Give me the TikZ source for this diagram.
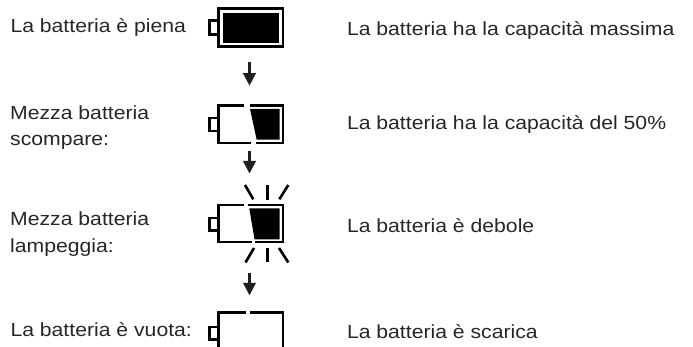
\documentclass[tikz,border=0pt]{standalone}
\usepackage{fontspec}
\setmainfont[FakeStretch=1.115]{Liberation Sans}
\usetikzlibrary{arrows.meta}
\tikzset{
 x=1pt,y=-1pt,
 lab/.style={anchor=base west,inner sep=0pt,font=\fontsize{19}{24}\selectfont,text=black!85},
 frame/.style={line width=2.7pt,draw=black,line cap=butt,line join=miter},
 term/.style={line width=2.4pt,draw=black,line cap=butt,line join=miter},
 ray/.style={line width=2.6pt,draw=black},
 inner/.style={fill=black,draw=none},
 flow/.style={line width=2.3pt,draw=black!88,-{Triangle[length=12.5pt,width=12.5pt]}}
}
\begin{document}
\begin{tikzpicture}
\useasboundingbox (0,0) rectangle (693,347);
% labels
\node[lab] (l1) at (10.3,32.7) {La batteria è piena};
\node[lab] (r1) at (346.8,35.7) {La batteria ha la capacità massima};
\node[lab] (l2a) at (10,120) {Mezza batteria};
\node[lab] (l2b) at (10,146) {scompare:};
\node[lab] (r2) at (346.8,130) {La batteria ha la capacità del 50\%};
\node[lab] (l3a) at (10,226) {Mezza batteria};
\node[lab] (l3b) at (10,252.5) {lampeggia:};
\node[lab] (r3) at (346.8,232.7) {La batteria è debole};
\node[lab] (l4) at (10.3,336.7) {La batteria è vuota:};
\node[lab] (r4) at (346.8,338.7) {La batteria è scarica};
% battery 1
\draw[frame] (218.7,8.7) rectangle (283,46.3);
\draw[term] (218,20.5) -- (209.5,20.5) -- (209.5,34.5) -- (218,34.5);
\fill[inner] (223.3,13.3) rectangle (279.3,42.7);
% battery 2
\draw[frame] (244,105.8) -- (218.7,105.8) -- (218.7,143) -- (251.3,143);
\draw[frame] (250,105.8) -- (283,105.8) -- (283,143) -- (256,143);
\draw[term] (218,118) -- (209.5,118) -- (209.5,131) -- (218,131);
\fill[inner] (250,109) -- (279.5,109) -- (279.5,139.7) -- (256.7,139.7) -- cycle;
% battery 3
\draw[frame] (244.3,205) -- (218.7,205) -- (218.7,242) -- (251.5,242);
\draw[frame] (248.3,205) -- (283,205) -- (283,242) -- (255,242);
\draw[term] (218,218) -- (209.5,218) -- (209.5,230.5) -- (218,230.5);
\fill[inner] (249.3,208.5) -- (279.5,208.5) -- (279.5,239.3) -- (254.5,239.3) -- cycle;
\draw[ray] (245,185) -- (253.3,199.3);
\draw[ray] (267.3,185) -- (267.3,200);
\draw[ray] (288.3,185) -- (279.3,199.3);
\draw[ray] (254,248) -- (245.5,262.5);
\draw[ray] (267.3,248) -- (267.3,262.5);
\draw[ray] (279,248) -- (288.3,262.5);
% battery 4
\draw[frame] (245.7,312.7) -- (218.7,312.7) -- (218.7,347);
\draw[frame] (250,312.7) -- (283,312.7) -- (283,347);
\draw[term] (218,327) -- (209.5,327) -- (209.5,339.3) -- (218,339.3);
% arrows
\coordinate (a1s) at (249.5,62.5); \coordinate (a1e) at (249.5,85.7);
\coordinate (a2s) at (249.5,151.5); \coordinate (a2e) at (249.5,173.5);
\coordinate (a3s) at (249.5,273); \coordinate (a3e) at (249.5,295.3);
\draw[flow] (a1s) -- (a1e);
\draw[flow] (a2s) -- (a2e);
\draw[flow] (a3s) -- (a3e);
\end{tikzpicture}
\end{document}
